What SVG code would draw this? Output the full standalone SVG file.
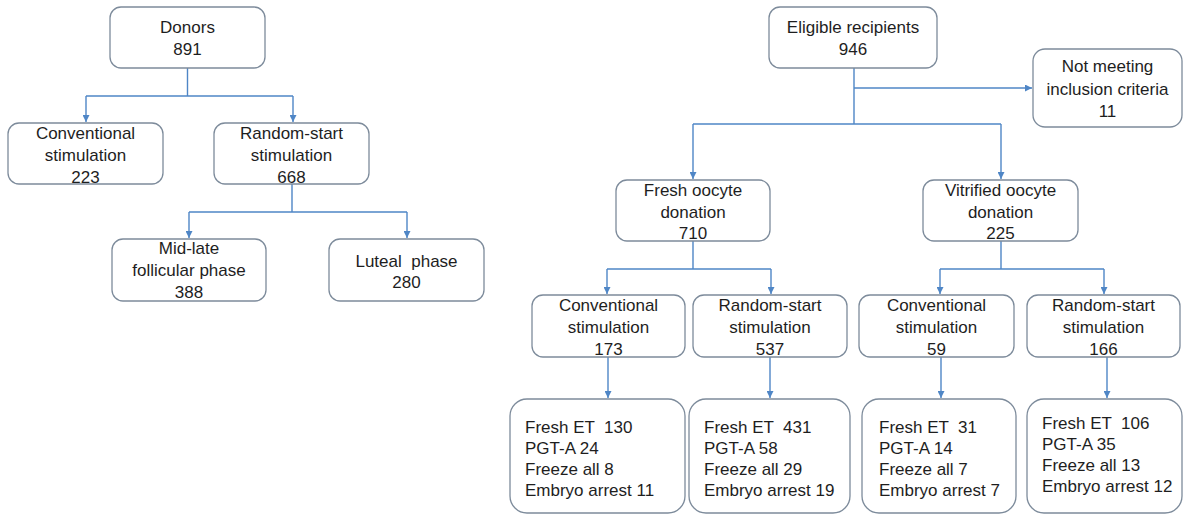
<svg xmlns="http://www.w3.org/2000/svg" width="1184" height="515" viewBox="0 0 1184 515">
<style>
.box{fill:#fff;stroke:#7d8b9b;stroke-width:1.3}
.t{font-family:"Liberation Sans",Arial,sans-serif;font-size:17px;fill:#1e1e1e}
.c{text-anchor:middle}
.con{fill:none;stroke:#4f86c6;stroke-width:1.4}
</style>
<defs>
<marker id="ah" viewBox="0 0 8 8" refX="8" refY="4" markerWidth="7" markerHeight="7" markerUnits="userSpaceOnUse" orient="auto">
<path d="M0,0 L8,4 L0,8 z" fill="#4f86c6"/>
</marker>
</defs>
<rect width="1184" height="515" fill="#fff"/>
<g id="connectors" class="con">
<path d="M187.5 68V96M86 96H293"/>
<line x1="86" y1="96" x2="86" y2="122" marker-end="url(#ah)"/>
<line x1="293" y1="96" x2="293" y2="122" marker-end="url(#ah)"/>
<path d="M292 184V212M189 212H407"/>
<line x1="189" y1="212" x2="189" y2="238" marker-end="url(#ah)"/>
<line x1="407" y1="212" x2="407" y2="238" marker-end="url(#ah)"/>
<path d="M854 68V124M693 124H1001"/>
<line x1="854" y1="88" x2="1032" y2="88" marker-end="url(#ah)"/>
<line x1="693" y1="124" x2="693" y2="179" marker-end="url(#ah)"/>
<line x1="1001" y1="124" x2="1001" y2="179" marker-end="url(#ah)"/>
<path d="M693 241V269M607 269H771M1001 241V269M940 269H1104"/>
<line x1="607" y1="269" x2="607" y2="294" marker-end="url(#ah)"/>
<line x1="771" y1="269" x2="771" y2="294" marker-end="url(#ah)"/>
<line x1="940" y1="269" x2="940" y2="294" marker-end="url(#ah)"/>
<line x1="1104" y1="269" x2="1104" y2="294" marker-end="url(#ah)"/>
<line x1="608" y1="357" x2="608" y2="398" marker-end="url(#ah)"/>
<line x1="770" y1="357" x2="770" y2="398" marker-end="url(#ah)"/>
<line x1="941" y1="357" x2="941" y2="398" marker-end="url(#ah)"/>
<line x1="1107" y1="357" x2="1107" y2="398" marker-end="url(#ah)"/>
</g>
<g id="donors">
<rect class="box" x="110" y="7" width="155" height="61" rx="11"/>
<text class="t c" x="187.5" y="33">Donors</text>
<text class="t c" x="187.5" y="55">891</text>
</g>
<g id="conv-donor">
<rect class="box" x="8" y="123" width="155" height="61" rx="11"/>
<text class="t c" x="85.5" y="139">Conventional</text>
<text class="t c" x="85.5" y="161">stimulation</text>
<text class="t c" x="85.5" y="183">223</text>
</g>
<g id="random-donor">
<rect class="box" x="214" y="123" width="155" height="61" rx="11"/>
<text class="t c" x="291.5" y="139">Random-start</text>
<text class="t c" x="291.5" y="161">stimulation</text>
<text class="t c" x="291.5" y="183">668</text>
</g>
<g id="midlate">
<rect class="box" x="112" y="239" width="154" height="62" rx="11"/>
<text class="t c" x="189" y="254">Mid-late</text>
<text class="t c" x="189" y="276">follicular phase</text>
<text class="t c" x="189" y="298">388</text>
</g>
<g id="luteal">
<rect class="box" x="329" y="239" width="155" height="62" rx="11"/>
<text class="t c" x="406.5" y="267" style="white-space:pre">Luteal  phase</text>
<text class="t c" x="406.5" y="288">280</text>
</g>
<g id="eligible">
<rect class="box" x="769" y="7" width="168" height="61" rx="11"/>
<text class="t c" x="853" y="33">Eligible recipients</text>
<text class="t c" x="853" y="55">946</text>
</g>
<g id="notmeeting">
<rect class="box" x="1033" y="49" width="149" height="78" rx="12"/>
<text class="t c" x="1107.5" y="72">Not meeting</text>
<text class="t c" x="1107.5" y="95">inclusion criteria</text>
<text class="t c" x="1107.5" y="117">11</text>
</g>
<g id="fresh">
<rect class="box" x="616" y="180" width="154" height="61" rx="11"/>
<text class="t c" x="693" y="196">Fresh oocyte</text>
<text class="t c" x="693" y="218">donation</text>
<text class="t c" x="693" y="239">710</text>
</g>
<g id="vitrified">
<rect class="box" x="923" y="180" width="155" height="61" rx="11"/>
<text class="t c" x="1000.5" y="196">Vitrified oocyte</text>
<text class="t c" x="1000.5" y="218">donation</text>
<text class="t c" x="1000.5" y="239">225</text>
</g>
<g id="conv173">
<rect class="box" x="532" y="295" width="153" height="62" rx="11"/>
<text class="t c" x="608.5" y="311">Conventional</text>
<text class="t c" x="608.5" y="333">stimulation</text>
<text class="t c" x="608.5" y="355">173</text>
</g>
<g id="random537">
<rect class="box" x="693" y="295" width="154" height="62" rx="11"/>
<text class="t c" x="770" y="311">Random-start</text>
<text class="t c" x="770" y="333">stimulation</text>
<text class="t c" x="770" y="355">537</text>
</g>
<g id="conv59">
<rect class="box" x="859" y="295" width="155" height="62" rx="11"/>
<text class="t c" x="936.5" y="311">Conventional</text>
<text class="t c" x="936.5" y="333">stimulation</text>
<text class="t c" x="936.5" y="355">59</text>
</g>
<g id="random166">
<rect class="box" x="1027" y="295" width="153" height="62" rx="11"/>
<text class="t c" x="1103.5" y="311">Random-start</text>
<text class="t c" x="1103.5" y="333">stimulation</text>
<text class="t c" x="1103.5" y="355">166</text>
</g>
<g id="out173">
<rect class="box" x="510" y="399" width="175" height="114" rx="17"/>
<text class="t" x="525" y="433" style="white-space:pre">Fresh ET  130</text>
<text class="t" x="525" y="454">PGT-A 24</text>
<text class="t" x="525" y="475">Freeze all 8</text>
<text class="t" x="525" y="496">Embryo arrest 11</text>
</g>
<g id="out537">
<rect class="box" x="689" y="399" width="161" height="114" rx="17"/>
<text class="t" x="704" y="433" style="white-space:pre">Fresh ET  431</text>
<text class="t" x="704" y="454">PGT-A 58</text>
<text class="t" x="704" y="475">Freeze all 29</text>
<text class="t" x="704" y="496">Embryo arrest 19</text>
</g>
<g id="out59">
<rect class="box" x="862" y="399" width="154" height="114" rx="17"/>
<text class="t" x="879" y="433" style="white-space:pre">Fresh ET  31</text>
<text class="t" x="879" y="454">PGT-A 14</text>
<text class="t" x="879" y="475">Freeze all 7</text>
<text class="t" x="879" y="496">Embryo arrest 7</text>
</g>
<g id="out166">
<rect class="box" x="1027" y="399" width="155" height="114" rx="17"/>
<text class="t" x="1042" y="429" style="white-space:pre">Fresh ET  106</text>
<text class="t" x="1042" y="450">PGT-A 35</text>
<text class="t" x="1042" y="471">Freeze all 13</text>
<text class="t" x="1042" y="492">Embryo arrest 12</text>
</g>
</svg>
